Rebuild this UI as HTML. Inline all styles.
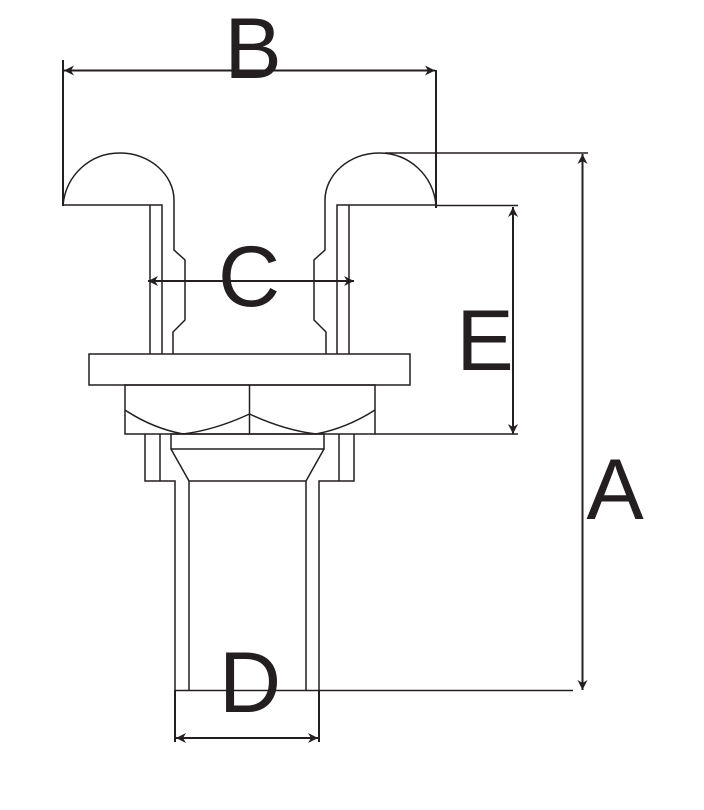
<!DOCTYPE html>
<html><head><meta charset="utf-8"><style>html,body{margin:0;padding:0;background:#fff}svg{display:block}</style></head>
<body>
<svg width="704" height="810" viewBox="0 0 704 810" xmlns="http://www.w3.org/2000/svg">
<defs>
<marker id="ar" viewBox="0 0 10 10" refX="10" refY="5" markerWidth="10" markerHeight="10" markerUnits="userSpaceOnUse" orient="auto-start-reverse">
<path d="M0,0 L10,5 L0,10 L3,5 Z" fill="#231f20"/></marker>
</defs>
<g fill="none" stroke="#231f20" stroke-width="1.5">
<!-- left head -->
<path d="M63,205 C66,175 90,153 120,153 C150,153 174,175 174,200 L174,250 L185,260 L185,320 L173,332 L173,354"/>
<path d="M63,205 L162,205 L162,354"/>
<path d="M150,205 L150,354"/>
<!-- right head -->
<path d="M436,205 C433,175 409,153 379,153 C349,153 325,175 325,200 L325,250 L314,260 L314,320 L326,332 L326,354"/>
<path d="M436,205 L337,205 L337,354"/>
<path d="M349,205 L349,354"/>
<!-- flange -->
<rect x="89" y="354" width="321" height="31"/>
<!-- nut -->
<rect x="125" y="385" width="250" height="49"/>
<line x1="249.5" y1="385" x2="249.5" y2="434"/>
<path d="M125,410 Q152,428 183,434 Q215,430 249.5,414 Q284,430 316,434 Q347,428 375,410"/>
<!-- lower body -->
<path d="M145,434 L145,481 L175,481 L175,690"/>
<line x1="160" y1="434" x2="160" y2="481"/>
<path d="M354,434 L354,481 L319,481 L319,690"/>
<line x1="339" y1="434" x2="339" y2="481"/>
<rect x="171" y="434" width="153" height="15"/>
<path d="M171,449 L189,481 L306,481 L324,449"/>
<line x1="189" y1="481" x2="189" y2="690"/>
<line x1="306" y1="481" x2="306" y2="690"/>
</g>
<g fill="none" stroke="#231f20" stroke-width="1.5">
<line x1="175" y1="690.5" x2="573" y2="690.5"/>
<line x1="385" y1="153" x2="588" y2="153"/>
<line x1="436" y1="205.5" x2="518" y2="205.5"/>
<line x1="375" y1="434" x2="518" y2="434"/>
</g>
<g fill="none" stroke="#231f20" stroke-width="2">
<line x1="63" y1="60" x2="63" y2="206"/>
<line x1="436" y1="70" x2="436" y2="208"/>
<line x1="64" y1="70.5" x2="435" y2="70.5" marker-start="url(#ar)" marker-end="url(#ar)"/>
<line x1="148" y1="281" x2="354" y2="281" marker-start="url(#ar)" marker-end="url(#ar)"/>
<line x1="513" y1="207" x2="513" y2="434" marker-start="url(#ar)" marker-end="url(#ar)"/>
<line x1="582.5" y1="154" x2="582.5" y2="690" marker-start="url(#ar)" marker-end="url(#ar)"/>
<line x1="175" y1="690" x2="175" y2="742"/>
<line x1="319" y1="690" x2="319" y2="742"/>
<line x1="176" y1="738" x2="318" y2="738" marker-start="url(#ar)" marker-end="url(#ar)"/>
</g>
<g fill="#231f20" font-family="Liberation Sans, DejaVu Sans, sans-serif" font-size="86" text-anchor="middle">
<text x="253" y="78">B</text>
<text x="249" y="306">C</text>
<text x="485" y="370">E</text>
<text x="615" y="519">A</text>
<text x="250" y="712">D</text>
</g>
</svg>
</body></html>
